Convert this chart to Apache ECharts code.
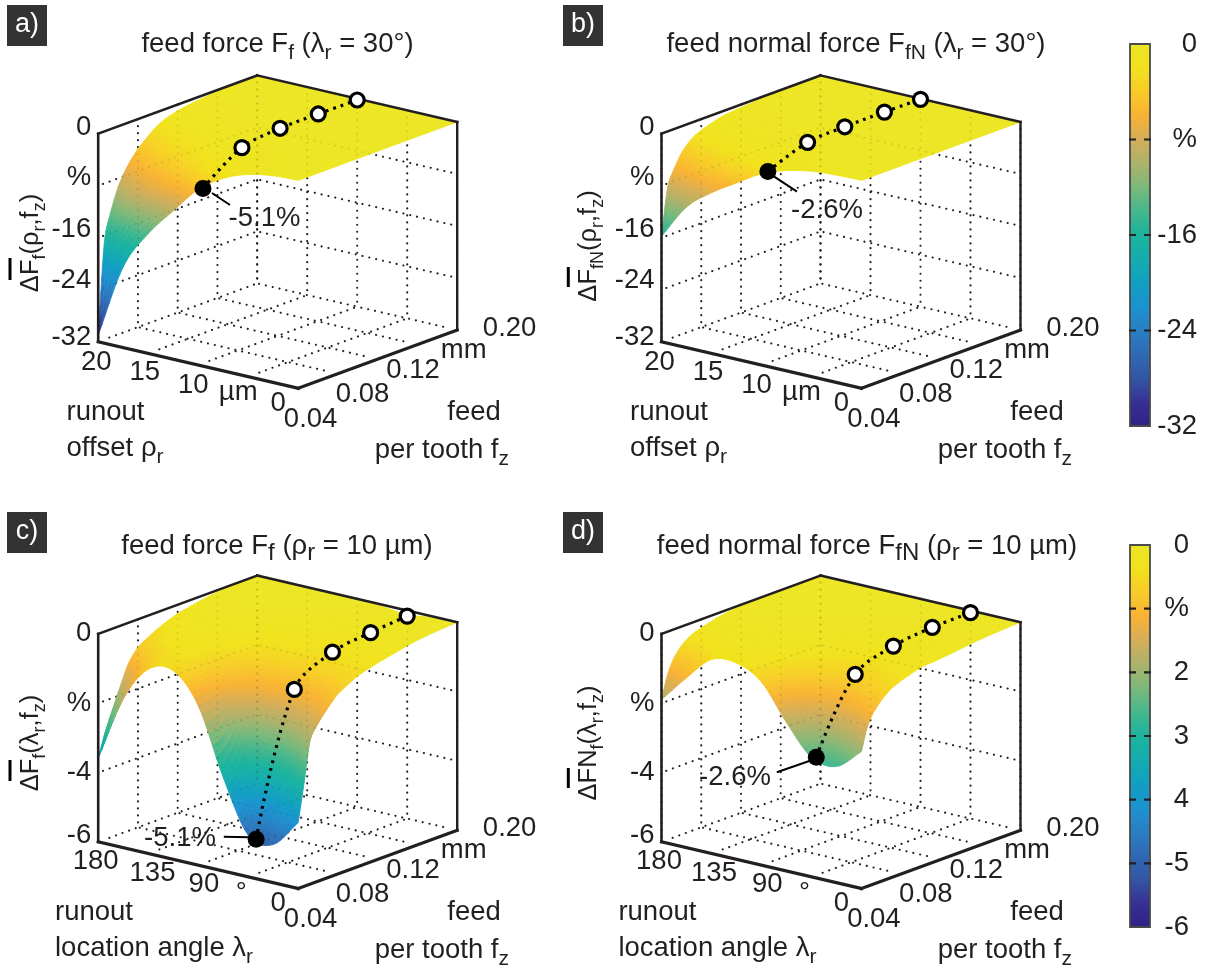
<!DOCTYPE html>
<html>
<head>
<meta charset="utf-8">
<script src="https://cdn.jsdelivr.net/npm/echarts@6/dist/echarts.min.js"></script>
<style>html,body{margin:0;padding:0;background:#fff}#c{width:1214px;height:967px}</style>
</head>
<body>
<div id="c"></div>
<script>
// ---------- data ----------
const fzValues = [0.04, 0.046, 0.052, 0.06, 0.07, 0.08, 0.10, 0.12, 0.16, 0.20];
const rhoValues = [0, 2.5, 5, 7.5, 10, 12.5, 15, 17.5, 20];
const lambdaValues = [0, 22.5, 45, 67.5, 90, 112.5, 135, 157.5, 180];

const surfaceA = [
  [0, 0, 0, 0, 0, 0, 0, 0, 0, 0],
  [-0.2, -0.11, -0.08, -0.06, -0.04, -0.03, -0.01, -0.01, 0, 0],
  [-0.9, -0.5, -0.38, -0.27, -0.19, -0.13, -0.06, -0.03, -0.01, 0],
  [-2.4, -1.34, -1.01, -0.72, -0.5, -0.35, -0.16, -0.07, -0.01, 0],
  [-5.0, -2.8, -2.1, -1.5, -1.05, -0.73, -0.33, -0.15, -0.03, 0],
  [-9.2, -5.15, -3.86, -2.76, -1.93, -1.33, -0.61, -0.28, -0.06, 0],
  [-13.6, -7.62, -5.71, -4.08, -2.86, -1.97, -0.9, -0.41, -0.08, 0],
  [-19.6, -10.98, -8.23, -5.88, -4.12, -2.84, -1.29, -0.59, -0.12, 0],
  [-31, -17.36, -13.02, -9.3, -6.51, -4.5, -2.05, -0.93, -0.19, 0]
];
const surfaceB = [
  [0, 0, 0, 0, 0, 0, 0, 0, 0, 0],
  [-0.1, -0.06, -0.04, -0.03, -0.02, -0.01, -0.01, 0, 0, 0],
  [-0.4, -0.22, -0.16, -0.1, -0.06, -0.04, -0.02, -0.01, 0, 0],
  [-1.2, -0.66, -0.48, -0.31, -0.19, -0.13, -0.06, -0.03, -0.01, 0],
  [-2.6, -1.43, -1.04, -0.68, -0.42, -0.28, -0.13, -0.07, -0.01, 0],
  [-4.9, -2.7, -1.96, -1.27, -0.78, -0.52, -0.25, -0.14, -0.02, 0],
  [-7.3, -4.02, -2.92, -1.9, -1.17, -0.78, -0.37, -0.2, -0.04, 0],
  [-10.4, -5.72, -4.16, -2.7, -1.66, -1.11, -0.52, -0.29, -0.05, 0],
  [-15.8, -8.69, -6.32, -4.11, -2.53, -1.69, -0.79, -0.44, -0.08, 0]
];
const surfaceC = [
  [-4.1, -3.0, -1.85, -1.45, -1.1, -0.8, -0.5, -0.33, -0.1, 0],
  [-4.9, -4.3, -3.4, -2.4, -1.6, -1.15, -0.62, -0.38, -0.13, -0.03],
  [-4.8, -4.6, -3.9, -2.9, -1.9, -1.3, -0.7, -0.42, -0.18, -0.12],
  [-3.3, -3.2, -2.9, -2.4, -1.7, -1.2, -0.65, -0.4, -0.15, -0.05],
  [-1.4, -1.4, -1.35, -1.25, -1.05, -0.85, -0.55, -0.35, -0.12, -0.03],
  [-0.56, -0.56, -0.55, -0.52, -0.47, -0.42, -0.3, -0.2, -0.06, 0],
  [-0.68, -0.62, -0.55, -0.47, -0.38, -0.3, -0.2, -0.12, -0.03, 0],
  [-1.7, -1.45, -1.2, -0.9, -0.65, -0.42, -0.25, -0.13, -0.03, 0],
  [-3.6, -3.0, -2.5, -1.9, -1.2, -0.8, -0.48, -0.25, -0.05, 0]
];
const surfaceD = [
  [-2.05, -1.4, -1.05, -0.78, -0.55, -0.42, -0.25, -0.2, -0.07, 0],
  [-2.65, -2.2, -1.65, -1.15, -0.8, -0.6, -0.36, -0.24, -0.08, -0.02],
  [-2.55, -2.35, -1.9, -1.45, -1.0, -0.72, -0.42, -0.25, -0.08, -0.05],
  [-1.72, -1.6, -1.4, -1.1, -0.8, -0.6, -0.36, -0.2, -0.07, -0.02],
  [-0.72, -0.7, -0.65, -0.55, -0.45, -0.36, -0.22, -0.13, -0.04, 0],
  [-0.34, -0.33, -0.31, -0.28, -0.24, -0.2, -0.12, -0.07, -0.02, 0],
  [-0.4, -0.35, -0.3, -0.25, -0.2, -0.16, -0.09, -0.05, -0.01, 0],
  [-1.1, -0.85, -0.62, -0.42, -0.28, -0.2, -0.1, -0.05, -0.01, 0],
  [-1.9, -1.25, -0.85, -0.55, -0.35, -0.24, -0.1, -0.03, 0, 0]
];

const markerFzA = [0.0448, 0.084, 0.1224, 0.1608, 0.20];
const markerZA = [-5.1, -1.03, -0.2, -0.15, -0.2];
const markerFzB = [0.0464, 0.0864, 0.1238, 0.1637, 0.20];
const markerZB = [-2.6, -0.35, -0.05, -0.02, -0.1];
const markerFzC = [0.048, 0.0864, 0.1248, 0.1632, 0.20];
const markerZC = [-5.0, -1.08, -0.41, -0.25, -0.16];
const markerFzD = [0.0448, 0.084, 0.1224, 0.1616, 0.20];
const markerZD = [-2.6, -0.62, -0.21, -0.08, -0.06];

const rhoTicks = [0, 5, 10, 15, 20];
const rhoTickLabels = ['0', 'µm', '10', '15', '20'];
const lambdaTicks = [0, 45, 90, 135, 180];
const lambdaTickLabels = ['0', '°', '90', '135', '180'];
const fzTicks = [0.04, 0.08, 0.12, 0.16, 0.20];
const fzTickLabels = ['0.04', '0.08', '0.12', 'mm', '0.20'];
const zTicksTop = [0, -8, -16, -24, -32];
const zTickLabelsTop = ['0', '%', '-16', '-24', '-32'];
const zTicksBottom = [0, -2, -4, -6];
const zTickLabelsBottom = ['0', '%', '-4', '-6'];
const barTicksTop = [0, -8, -16, -24, -32];
const barLabelsTop = ['0', '%', '-16', '-24', '-32'];
const barTicksBottom = [0, -1, -2, -3, -4, -5, -6];
const barLabelsBottom = ['0', '%', '2', '3', '4', '-5', '-6'];
const palette = ['#ECE624','#F1E21C','#F8CB28','#F9B233','#D4AE58','#ADB26A','#7CB97A','#45B78C','#1CB39C','#14ADAF','#119FC2','#1C92D0','#2A7EC2','#2F69B3','#3455A4','#382F92','#2E2288'];

// ---------- layout ----------
const FONT = '"Liberation Sans", Arial, sans-serif';
const INK = '#231f20';
const TICK_SIZE = 27.5;
const panels = [
  { ox: 98.2, oy: 76, xs: rhoValues, xMax: 20, zMin: -32, surf: surfaceA, mFz: markerFzA, mZ: markerZA, mX: 10,
    xt: rhoTicks, xl: rhoTickLabels, zt: zTicksTop, zl: zTickLabelsTop,
    xOff: [[-20,15],[-10,16],[-5,20],[-3.5,19],[-2,21]], zOff: [-6,-8,-8,-9,-4] },
  { ox: 661.5, oy: 76, xs: rhoValues, xMax: 20, zMin: -32, surf: surfaceB, mFz: markerFzB, mZ: markerZB, mX: 10,
    xt: rhoTicks, xl: rhoTickLabels, zt: zTicksTop, zl: zTickLabelsTop,
    xOff: [[-20,15],[-10,16],[-5,20],[-3.5,19],[-2,21]], zOff: [-6,-8,-8,-9,-4] },
  { ox: 98.2, oy: 576.2, xs: lambdaValues, xMax: 180, zMin: -6, surf: surfaceC, mFz: markerFzC, mZ: markerZC, mX: 45,
    xt: lambdaTicks, xl: lambdaTickLabels, zt: zTicksBottom, zl: zTickLabelsBottom,
    xOff: [[-20,15],[-7,17],[5.7,19.7],[4.3,19.6],[-2.5,20]], zOff: [0,0,0,-6] },
  { ox: 661.5, oy: 576.2, xs: lambdaValues, xMax: 180, zMin: -6, surf: surfaceD, mFz: markerFzD, mZ: markerZD, mX: 45,
    xt: lambdaTicks, xl: lambdaTickLabels, zt: zTicksBottom, zl: zTickLabelsBottom,
    xOff: [[-20,15],[-7,17],[5.7,19.7],[2.5,19.6],[-2.5,20]], zOff: [0,0,0,-6] }
];
const fzOff = [[12.4,31],[24.6,20.6],[35.3,10.8],[46.3,5.4],[52.4,-1.7]];
const W = 359, H = 312.3;

const fzN = fz => (fz - 0.04) / 0.16;
// oblique projection of (x axis 0..1, feed 0..1, depth 0..1) to the plane of the hidden axes
function proj(r, f, d) { return [200 * (1 - r) + 159 * f, 104.3 - 46.6 * r - 58.3 * f + 208 * d]; }

function cr(a, b, c, e, t) {
  return 0.5 * (2*b + (c-a)*t + (2*a-5*b+4*c-e)*t*t + (3*b-a-3*c+e)*t*t*t);
}
function sampler(m) {
  const R = m.length, C = m[0].length;
  const g = (i, j) => {
    // shading only: straight continuation past the edges of the table
    if (i < 0) return 2*g(0, j) - g(1, j);
    if (i > R-1) return 2*g(R-1, j) - g(R-2, j);
    if (j < 0) return 2*m[i][0] - m[i][1];
    if (j > C-1) return 2*m[i][C-1] - m[i][C-2];
    return m[i][j];
  };
  return function (ri, ci) {
    const i = Math.min(R-2, Math.floor(ri)), j = Math.min(C-2, Math.floor(ci));
    const t = ri - i, u = ci - j, col = [];
    for (let k = -1; k <= 2; k++) col.push(cr(g(i+k,j-1), g(i+k,j), g(i+k,j+1), g(i+k,j+2), u));
    return Math.min(0, cr(col[0], col[1], col[2], col[3], t));
  };
}
const lerpIdx = (arr, x) => { const i = Math.min(arr.length-2, Math.floor(x)); return arr[i] + (arr[i+1]-arr[i])*(x-i); };

const grid = [], xAxis = [], yAxis = [], series = [];
panels.forEach((p, k) => {
  grid.push({ left: p.ox, top: p.oy, width: W, height: H, show: false });
  xAxis.push({ type: 'value', gridIndex: k, min: 0, max: W, show: false });
  yAxis.push({ type: 'value', gridIndex: k, min: 0, max: H, inverse: true, show: false });
  const R = v => v / p.xMax, D = z => z / p.zMin;
  const base = { xAxisIndex: k, yAxisIndex: k, silent: true, clip: false, animation: false };

  // dotted walls & floor; the lines stop a little short of the solid frame
  const dots = [];
  p.xt.forEach(v => { const r = R(v);
    dots.push([r,1,0, r,1,1]);
    dots.push([r,0.07,1, r,1,1]);
  });
  fzTicks.forEach(v => { const f = fzN(v);
    dots.push([1,f,0, 1,f,1]);
    dots.push([0.07,f,1, 1,f,1]);
  });
  p.zt.forEach(v => { const d = D(v);
    if (d > 0 && d < 1) { dots.push([1,0.03,d, 1,1,d]); dots.push([0.03,1,d, 1,1,d]); }
  });
  const dotItem = (op, z) => Object.assign({}, base, {
    type: 'custom', z, data: dots, progressive: 0,
    renderItem: (ps, api) => {
      const a = api.coord(proj(api.value(0), api.value(1), api.value(2)));
      const b = api.coord(proj(api.value(3), api.value(4), api.value(5)));
      return { type: 'line', shape: { x1: a[0], y1: a[1], x2: b[0], y2: b[1] },
        style: { stroke: '#222', lineWidth: 2.1, lineCap: 'round', lineDash: [0.1, 6.9], opacity: op, fill: null } };
    }
  });
  series.push(dotItem(1, 1));

  // surface: back cells first
  const sample = sampler(p.surf), cells = [];
  for (let i = p.xs.length - 2; i >= 0; i--) for (let j = fzValues.length - 2; j >= 0; j--) cells.push([i, j]);
  const N = 7;
  series.push(Object.assign({}, base, {
    type: 'custom', z: 2, data: cells, progressive: 0,
    renderItem: (ps, api) => {
      const i = api.value(0), j = api.value(1), children = [];
      for (let a = N - 1; a >= 0; a--) for (let b = N - 1; b >= 0; b--) {
        const c = [[a,b],[a+1,b],[a+1,b+1],[a,b+1]];
        let zs = 0;
        const pts = c.map(q => {
          const ri = i + q[0]/N, ci = j + q[1]/N, z = sample(ri, ci);
          zs += z;
          return api.coord(proj(R(lerpIdx(p.xs, ri)), fzN(lerpIdx(fzValues, ci)), D(z)));
        });
        const col = echarts.color.lerp(Math.min(1, (zs/4) / p.zMin), palette);
        children.push({ type: 'polygon', shape: { points: pts }, style: { fill: col, stroke: col, lineWidth: 0.8 } });
      }
      return { type: 'group', children };
    }
  }));
  series.push(dotItem(0.1, 3));

  // frame
  const frame = [[1,0,0, 1,1,0, 2.6],[1,1,0, 0,1,0, 2.6],[1,0,0, 1,0,1, 2.6],[0,1,0, 0,1,1, 2.4],[1,0,1, 0,0,1, 3.2],[0,0,1, 0,1,1, 3.2]];
  series.push(Object.assign({}, base, {
    type: 'custom', z: 4, data: frame, progressive: 0,
    renderItem: (ps, api) => {
      const a = api.coord(proj(api.value(0), api.value(1), api.value(2)));
      const b = api.coord(proj(api.value(3), api.value(4), api.value(5)));
      return { type: 'line', shape: { x1: a[0], y1: a[1], x2: b[0], y2: b[1] },
        style: { stroke: INK, lineWidth: api.value(6), fill: null, lineCap: 'square' } };
    }
  }));

  // measured points
  const mPts = p.mFz.map((fz, i) => proj(R(p.mX), fzN(fz), D(p.mZ[i])));
  series.push(Object.assign({}, base, {
    type: 'line', z: 5, data: mPts, smooth: 0.35, symbol: 'none',
    lineStyle: { color: '#000', width: 3.2, type: [2.8, 5] }
  }));
  series.push(Object.assign({}, base, {
    type: 'scatter', z: 6, data: mPts.map((q, i) => ({
      value: q, symbolSize: i === 0 ? 17 : 14,
      itemStyle: i === 0 ? { color: '#000', opacity: 1 } : { color: '#fff', borderColor: '#000', borderWidth: 3.2, opacity: 1 }
    }))
  }));

  // tick labels
  const lbls = [];
  p.xt.forEach((v, i) => { const c = proj(R(v), 0, 1); lbls.push([c[0] + p.xOff[i][0], c[1] + p.xOff[i][1], 'center', p.xl[i]]); });
  fzTicks.forEach((v, i) => { const c = proj(0, fzN(v), 1); lbls.push([c[0] + fzOff[i][0], c[1] + fzOff[i][1], 'center', fzTickLabels[i]]); });
  p.zt.forEach((v, i) => { const c = proj(1, 0, D(v)); lbls.push([c[0] - 7, c[1] + p.zOff[i], 'right', p.zl[i]]); });
  series.push(Object.assign({}, base, {
    type: 'custom', z: 7, data: lbls.map((l, i) => [l[0], l[1], i]), progressive: 0,
    renderItem: (ps, api) => {
      const l = lbls[api.value(2)], c = api.coord([api.value(0), api.value(1)]);
      return { type: 'text', x: c[0], y: c[1], style: { text: l[3], font: TICK_SIZE + 'px ' + FONT, fill: INK, align: l[2], verticalAlign: 'middle' } };
    }
  }));
});

// colour bars
[{ top: 44, min: -32, max: 0, step: 8, t: barTicksTop, l: barLabelsTop, margin: 47 },
 { top: 545, min: -6, max: 0, step: 1, t: barTicksBottom, l: barLabelsBottom, margin: 39 }].forEach(b => {
  const k = grid.length;
  grid.push({ left: 1130, top: b.top, width: 20, height: 382, show: false });
  xAxis.push({ type: 'value', gridIndex: k, min: 0, max: 1, show: false });
  yAxis.push({ type: 'value', gridIndex: k, min: b.min, max: b.max, interval: b.step, position: 'right',
    axisLine: { show: false }, axisTick: { show: false }, splitLine: { show: false },
    axisLabel: { margin: b.margin, align: 'right', color: INK, fontSize: TICK_SIZE, fontFamily: FONT,
      formatter: v => { const i = b.t.indexOf(v); return i < 0 ? '' : b.l[i]; } } });
  const stops = palette.map((c, i) => ({ offset: i / (palette.length - 1), color: c }));
  series.push({ type: 'custom', xAxisIndex: k, yAxisIndex: k, silent: true, clip: false, animation: false, z: 2,
    data: [[0, b.max, 1, b.min]],
    renderItem: (ps, api) => {
      const a = api.coord([api.value(0), api.value(1)]), c = api.coord([api.value(2), api.value(3)]);
      return { type: 'rect', shape: { x: a[0], y: a[1], width: c[0]-a[0], height: c[1]-a[1] },
        style: { fill: new echarts.graphic.LinearGradient(0, 0, 0, 1, stops), stroke: '#4a4a4a', lineWidth: 1.8 } };
    } });
  series.push({ type: 'custom', xAxisIndex: k, yAxisIndex: k, silent: true, clip: false, animation: false, z: 3,
    data: b.t.slice(1, -1).map(v => [v]),
    renderItem: (ps, api) => {
      const a = api.coord([0, api.value(0)]), c = api.coord([1, api.value(0)]);
      return { type: 'line', shape: { x1: a[0]-1, y1: a[1], x2: c[0]+1, y2: c[1] },
        style: { stroke: '#222', lineWidth: 2.2, lineDash: [7, 8, 7], fill: null } };
    } });
});

// ---------- annotation text ----------
const richOf = (main, sub, pad) => ({
  t: { fontSize: main, fontFamily: FONT, fill: INK, padding: [0,0,pad,0], lineHeight: main + 2.5, verticalAlign: 'bottom' },
  s: { fontSize: sub, fontFamily: FONT, fill: INK, lineHeight: sub + 1, verticalAlign: 'bottom' }
});
const RICH_T = richOf(27.5, 21, 6);
const RICH_T2 = richOf(27.5, 24, 5);
const RICH_Y = richOf(25.5, 18, 5);
const RICH_A = richOf(27.5, 21, 6);
const rich = (x, y, text, r, rot) => ({ type: 'text', x, y, rotation: rot || 0, z: 20,
  style: { text, rich: r, align: 'center', verticalAlign: 'middle' } });
const plain = (x, y, text, align) => ({ type: 'text', x, y, z: 20,
  style: { text, fill: INK, font: TICK_SIZE + 'px ' + FONT, align: align || 'center', verticalAlign: 'middle' } });
const seg = (x1, y1, x2, y2, w) => ({ type: 'line', z: 20, shape: { x1, y1, x2, y2 }, style: { stroke: '#000', lineWidth: w || 2 } });
const tag = (x, y, w, text) => [
  { type: 'rect', z: 20, shape: { x, y, width: w, height: 41 }, style: { fill: '#333333' } },
  { type: 'text', z: 21, x: x + w/2, y: y + 20, style: { text, fill: '#fff', font: '27px ' + FONT, align: 'center', verticalAlign: 'middle' } }
];

const elements = [
  ...tag(7, 5, 40, 'a)'), ...tag(563, 5, 40, 'b)'), ...tag(7, 512, 40, 'c)'), ...tag(563, 512, 40, 'd)'),
  rich(277.5, 49, '{t|feed force F}{s|f}{t| (λ}{s|r}{t| = 30°)}', RICH_T),
  rich(856, 49, '{t|feed normal force F}{s|fN}{t| (λ}{s|r}{t| = 30°)}', RICH_T),
  rich(277, 550, '{t|feed force F}{s|f}{t| (ρ}{s|r}{t| = 10 µm)}', RICH_T2),
  rich(867, 550, '{t|feed normal force F}{s|fN}{t| (ρ}{s|r}{t| = 10 µm)}', RICH_T2),
  rich(35, 243, '{t|ΔF}{s|f}{t|(ρ}{s|r}{t|,f}{s|z}{t|)}', RICH_Y, Math.PI/2),
  rich(593, 246, '{t|ΔF}{s|fN}{t|(ρ}{s|r}{t|,f}{s|z}{t|)}', RICH_Y, Math.PI/2),
  rich(35, 743, '{t|ΔF}{s|f}{t|(λ}{s|r}{t|,f}{s|z}{t|)}', RICH_Y, Math.PI/2),
  rich(593, 743, '{t|ΔFN}{s|f}{t|(λ}{s|r}{t|,f}{s|z}{t|)}', RICH_Y, Math.PI/2),
  seg(10, 258, 10, 280, 3), seg(568.3, 267, 568.3, 287, 3), seg(10, 760, 10, 781, 3), seg(568.3, 768, 568.3, 788, 3),
  seg(212, 193, 230, 205), seg(772.7, 175.7, 797, 191.7), seg(223.8, 836.7, 248.6, 837.3), seg(776.8, 772.3, 810, 760.7),
  plain(264.5, 218, '-5.1%'), plain(827, 210, '-2.6%'), plain(180, 838, '-5.1%'), plain(735, 777, '-2.6%'),
  plain(66.5, 412, 'runout', 'left'), plain(630, 412, 'runout', 'left'), plain(55, 912.7, 'runout', 'left'), plain(618.4, 912.7, 'runout', 'left'),
  plain(474, 412, 'feed'), plain(1037, 412, 'feed'), plain(474, 912.7, 'feed'), plain(1037, 912.7, 'feed')
];
const axisNames = [
  [66.5, 453, '{t|offset ρ}{s|r}', 'left'], [630, 453, '{t|offset ρ}{s|r}', 'left'],
  [55, 953, '{t|location angle λ}{s|r}', 'left'], [618.4, 953, '{t|location angle λ}{s|r}', 'left'],
  [509, 455, '{t|per tooth f}{s|z}', 'right'], [1072, 455, '{t|per tooth f}{s|z}', 'right'],
  [509, 955, '{t|per tooth f}{s|z}', 'right'], [1072, 955, '{t|per tooth f}{s|z}', 'right']
];
axisNames.forEach(a => elements.push({ type: 'text', x: a[0], y: a[1], z: 20, style: { text: a[2], rich: RICH_A, align: a[3], verticalAlign: 'middle' } }));

const chart = echarts.init(document.getElementById('c'), null, { renderer: 'canvas' });
chart.setOption({ animation: false, backgroundColor: '#fff', grid, xAxis, yAxis, series, graphic: { elements } });
</script>
</body>
</html>
